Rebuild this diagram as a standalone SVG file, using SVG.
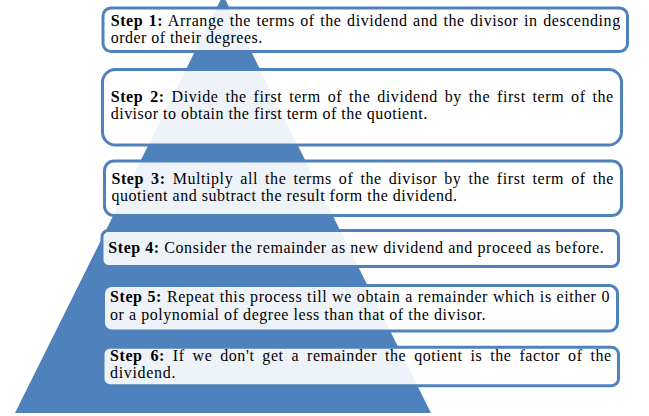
<svg xmlns="http://www.w3.org/2000/svg" width="649" height="416" viewBox="0 0 649 416">
<style>
.box{fill:#ffffff;fill-opacity:0.9;stroke:#4F81BD;stroke-width:3}
text{font-family:"Liberation Serif","Times New Roman",serif;font-size:16px;fill:#000;letter-spacing:0.55px}
.b{font-weight:bold}
</style>
<rect width="649" height="416" fill="#ffffff"/>
<polygon id="pyramid" points="223,-5 15,413 431,413" fill="#4F81BD"/>
<g id="step1">
<rect class="box" x="103" y="8" width="524.5" height="43.5" rx="8"/>
<text x="110.7" y="25.8" word-spacing="1" textLength="510" lengthAdjust="spacing"><tspan class="b">Step 1:</tspan> Arrange the terms of the dividend and the divisor in descending</text>
<text x="110.7" y="43.3" textLength="152" lengthAdjust="spacing">order of their degrees.</text>
</g>
<g id="step2">
<rect class="box" x="102.5" y="69.5" width="519" height="75.5" rx="13"/>
<text x="110.7" y="101.5" word-spacing="2.3" textLength="503" lengthAdjust="spacing"><tspan class="b">Step 2:</tspan> Divide the first term of the dividend by the first term of the</text>
<text x="110.7" y="118.8" textLength="317" lengthAdjust="spacing">divisor to obtain the first term of the quotient.</text>
</g>
<g id="step3">
<rect class="box" x="104.5" y="161" width="517" height="54.5" rx="9.5"/>
<text x="111.5" y="183.8" word-spacing="2.5" textLength="502.5" lengthAdjust="spacing"><tspan class="b">Step 3:</tspan> Multiply all the terms of the divisor by the first term of the</text>
<text x="111.5" y="201.3" textLength="346" lengthAdjust="spacing">quotient and subtract the result form the dividend.</text>
</g>
<g id="step4">
<rect class="box" x="102" y="230.5" width="516.5" height="36" rx="6.5"/>
<text x="108.3" y="253" textLength="496" lengthAdjust="spacing"><tspan class="b">Step 4:</tspan> Consider the remainder as new dividend and proceed as before.</text>
</g>
<g id="step5">
<rect class="box" x="103.5" y="285.5" width="514" height="45.5" rx="8"/>
<text x="110" y="302.3" word-spacing="0.3" textLength="500" lengthAdjust="spacing"><tspan class="b">Step 5:</tspan> Repeat this process till we obtain a remainder which is either 0</text>
<text x="110" y="320" textLength="376" lengthAdjust="spacing">or a polynomial of degree less than that of the divisor.</text>
</g>
<g id="step6">
<rect class="box" x="103" y="347.2" width="515.5" height="38.5" rx="7"/>
<text x="110" y="360.8" word-spacing="3.3" textLength="501.7" lengthAdjust="spacing"><tspan class="b">Step 6:</tspan> If we don't get a remainder the qotient is the factor of the</text>
<text x="110" y="378.3" textLength="66" lengthAdjust="spacing">dividend.</text>
</g>
</svg>
